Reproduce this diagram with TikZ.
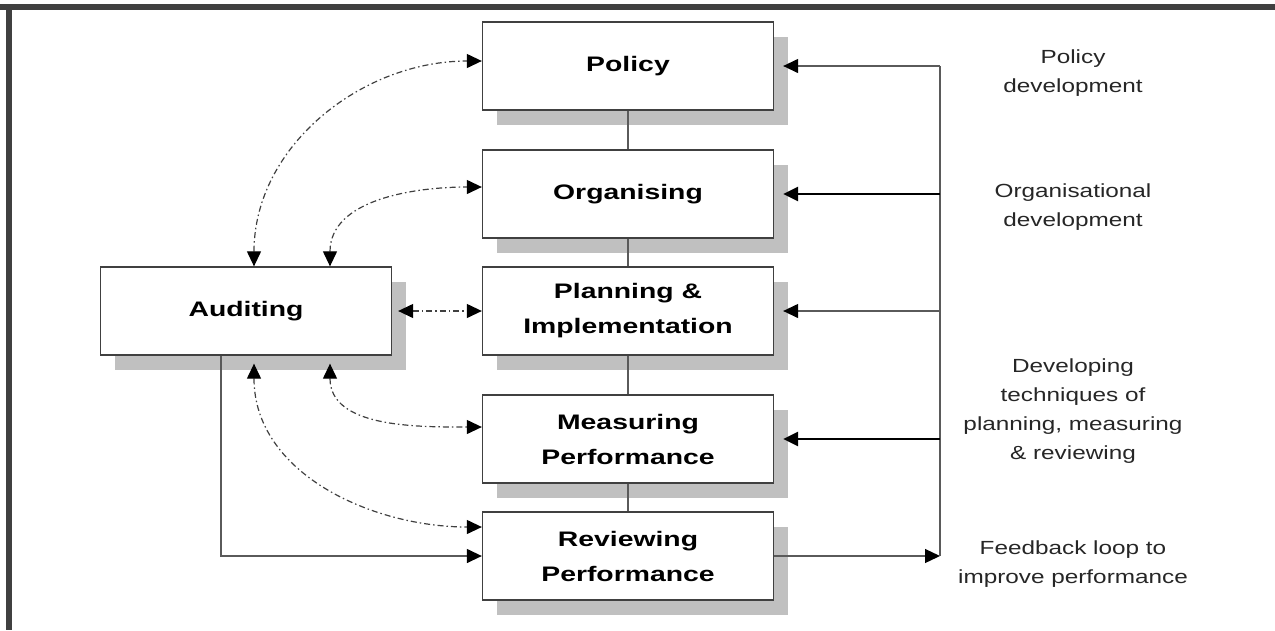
\documentclass[tikz,border=0pt]{standalone}
\usepackage{fontspec}
\setmainfont{Liberation Sans}
\newfontfamily\boxfont{Liberation Sans}[FakeStretch=1.35]
\newfontfamily\notefont{Liberation Sans}[FakeStretch=1.28]
\usetikzlibrary{arrows.meta,shadows}
\definecolor{framegray}{HTML}{404040}
\definecolor{shadegray}{HTML}{C0C0C0}
\definecolor{linegray}{HTML}{5A5A5A}
\tikzset{
stage/.style={
	draw=black!75, line width=1.3pt, fill=white, align=center,
	minimum width=291pt, minimum height=88pt,
	font=\boxfont\bfseries\fontsize{21}{35}\selectfont,
	drop shadow={shadow xshift=14pt, shadow yshift=-15pt, fill=shadegray, opacity=1}},
note/.style={align=center, text=black!85, font=\notefont\fontsize{19}{29}\selectfont},
feed/.style={linegray, line width=1.3pt, -{Triangle[length=15pt,width=14pt,black]}},
audit/.style={black!75, line width=1.2pt, dash pattern=on 6pt off 3pt on 1.5pt off 3pt,
	{Triangle[length=15pt,width=14pt,black]}-{Triangle[length=15pt,width=14pt,black]}}
}

\begin{document}
\begin{tikzpicture}[x=1pt, y=-1pt]
	\useasboundingbox (0,0) rectangle (1275,630);
	\fill[framegray] (0,4) rectangle (1275,10);
	\fill[framegray] (6,4) rectangle (12,630);

	\node[stage] (pol) at (628,66) {Policy};
	\node[stage] (org) at (628,194) {Organising};
	\node[stage] (plan) at (628,311) {Planning \&\\Implementation};
	\node[stage] (meas) at (628,439) {Measuring\\Performance};
	\node[stage] (rev) at (628,556) {Reviewing\\Performance};
	\node[stage] (aud) at (246,311) {Auditing};
	\draw[linegray, line width=1.3pt] (pol) -- (org) -- (plan) -- (meas) -- (rev);

	% feedback loop on the right
	\coordinate (top) at (940,66);
	\coordinate (loop) at (940,556);
	\draw[feed] (rev.east) -- (loop);
	\draw[linegray, line width=1.3pt] (loop) -- (top);
	\foreach \s/\c/\w in {pol/linegray/1.3pt, org/black/2.4pt, plan/linegray/1.3pt, meas/black/2.4pt}
		\draw[feed, \c, line width=\w] (\s.east -| top) -- ([xshift=9pt]\s.east);

	% auditing links
	\draw[feed] ([xshift=-25pt]aud.south) |- (rev.west);
	\draw[audit] ([xshift=8pt]aud.north) to[out=90, in=180] ([yshift=5pt]pol.west);
	\draw[audit] ([xshift=84pt]aud.north) to[out=90, in=180] ([yshift=7pt]org.west);
	\draw[audit] ([xshift=6pt]aud.east) -- (plan.west);
	\draw[audit] ([xshift=84pt, yshift=-8pt]aud.south) to[out=-90, in=180] ([yshift=12pt]meas.west);
	\draw[audit] ([xshift=8pt, yshift=-8pt]aud.south) to[out=-90, in=180] ([yshift=29pt]rev.west);

	\node[note] (polnote) at (1073,73) {Policy\\development};
	\node[note] (orgnote) at (1073,207) {Organisational\\development};
	\node[note] (technote) at (1073,411) {Developing\\techniques of\\planning, measuring\\\& reviewing};
	\node[note] (loopnote) at (1073,564) {Feedback loop to\\improve performance};
\end{tikzpicture}
\end{document}
